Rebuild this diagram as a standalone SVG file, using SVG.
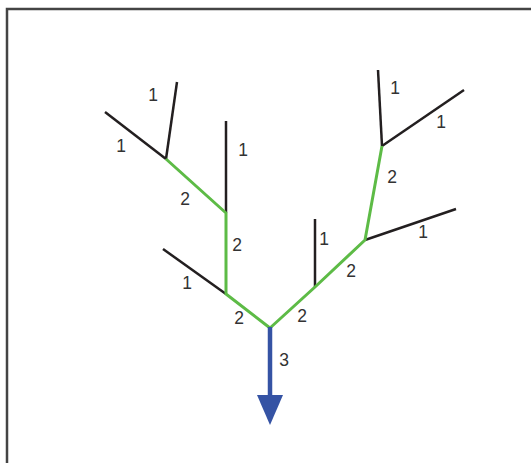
<svg xmlns="http://www.w3.org/2000/svg" width="531" height="463" viewBox="0 0 531 463">
<style>
.frame{fill:none;stroke:#444;stroke-width:2.5}
.o1{fill:none;stroke:#231f20;stroke-width:2.5;stroke-linecap:butt}
.o2{fill:none;stroke:#5dbb46;stroke-width:3;stroke-linejoin:round}
.o3{fill:none;stroke:#3553a4;stroke-width:4.5}
.lbl{font-family:"Liberation Sans",Arial,sans-serif;font-size:17.5px;fill:#333;text-anchor:middle}
</style>
<defs>
<marker id="arr" markerUnits="userSpaceOnUse" markerWidth="30" markerHeight="26" refX="0" refY="13" orient="auto" viewBox="0 0 30 26">
<path d="M0,0 L30,13 L0,26 Z" fill="#3553a4"/>
</marker>
</defs>
<rect class="frame" x="7" y="9" width="540" height="470"/>
<g id="connectors">
<g id="order1">
<line class="o1" x1="105" y1="112" x2="166" y2="159"/>
<line class="o1" x1="177" y1="82" x2="166" y2="159"/>
<line class="o1" x1="226" y1="121" x2="226" y2="213"/>
<line class="o1" x1="163" y1="249" x2="226" y2="294"/>
<line class="o1" x1="315" y1="219" x2="315" y2="287"/>
<line class="o1" x1="456" y1="209" x2="365" y2="240"/>
<line class="o1" x1="378" y1="70" x2="382" y2="146"/>
<line class="o1" x1="464" y1="90" x2="382" y2="146"/>
</g>
<g id="order2">
<polyline class="o2" points="166,159 226,213 226,294 270,328"/>
<polyline class="o2" points="382,146 365,240 315,287 270,328"/>
</g>
<g id="order3">
<line class="o3" x1="270" y1="327" x2="270" y2="395" marker-end="url(#arr)"/>
</g>
</g>
<g id="labels">
<text class="lbl" x="153" y="101">1</text>
<text class="lbl" x="121" y="152">1</text>
<text class="lbl" x="243" y="156">1</text>
<text class="lbl" x="185" y="205">2</text>
<text class="lbl" x="237" y="251">2</text>
<text class="lbl" x="187" y="289">1</text>
<text class="lbl" x="239" y="324">2</text>
<text class="lbl" x="302" y="322">2</text>
<text class="lbl" x="324" y="245">1</text>
<text class="lbl" x="351" y="277">2</text>
<text class="lbl" x="284" y="366">3</text>
<text class="lbl" x="395" y="94">1</text>
<text class="lbl" x="441" y="128">1</text>
<text class="lbl" x="392" y="183">2</text>
<text class="lbl" x="423" y="238">1</text>
</g>
</svg>
